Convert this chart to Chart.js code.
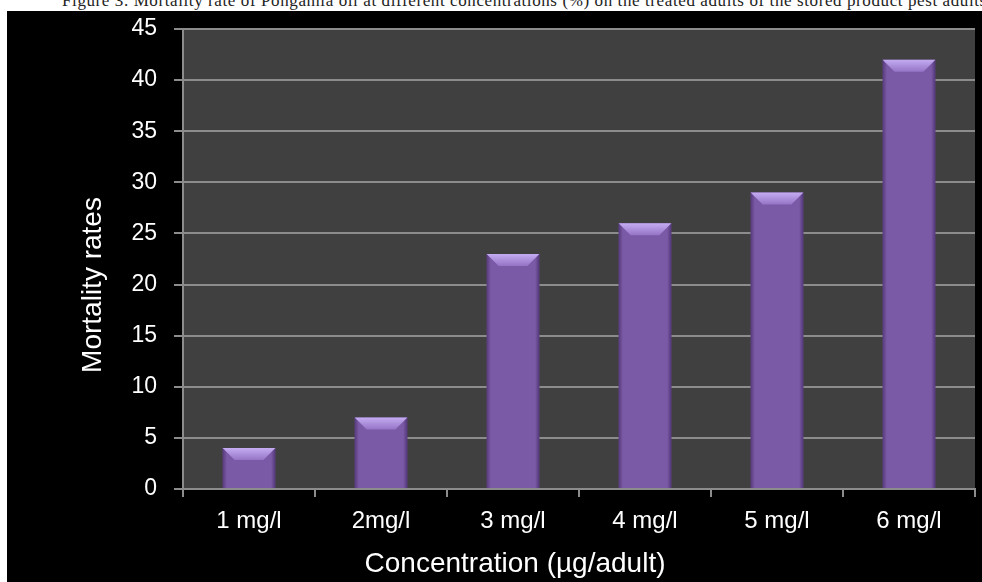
<!DOCTYPE html>
<html>
<head>
<meta charset="utf-8">
<script src="https://cdn.jsdelivr.net/npm/chart.js@4/dist/chart.umd.min.js"></script>
<style>
  html, body { margin:0; padding:0; background:#fff; width:982px; height:582px; overflow:hidden; }
  #cap { position:absolute; left:0; top:0; width:982px; height:11px; overflow:hidden; }
  #cap span { position:absolute; left:62px; top:-9px; white-space:nowrap; font-family:"Liberation Serif", serif; font-size:17px; color:#222; letter-spacing:0.6px; }
  #panel { position:absolute; left:7px; top:11px; width:975px; height:571px; background:#000; }
  #c { position:absolute; left:0; top:0; }
</style>
</head>
<body>
<div id="cap"><span>Figure 3. Mortality rate of Pongamia oil at different concentrations (%) on the treated adults of the stored product pest adults</span></div>
<div id="panel"><canvas id="c" width="975" height="571"></canvas></div>
<script>
const categories = ["1 mg/l", "2mg/l", "3 mg/l", "4 mg/l", "5 mg/l", "6 mg/l"];
const mortality = [4, 7, 23, 26, 29, 42];
const yTicks = [0, 5, 10, 15, 20, 25, 30, 35, 40, 45];
const xTitle = "Concentration (µg/adult)";
const yTitle = "Mortality rates";

const bgPlugin = {
  id: 'plotBg',
  beforeDraw(chart) {
    const {ctx, chartArea:a} = chart;
    ctx.save();
    ctx.fillStyle = '#404040';
    ctx.fillRect(a.left, a.top, a.right - a.left, a.bottom - a.top);
    ctx.restore();
  }
};

const bevelPlugin = {
  id: 'bevel',
  afterDatasetsDraw(chart) {
    const ctx = chart.ctx;
    const meta = chart.getDatasetMeta(0);
    meta.data.forEach(el => {
      const w = el.width, l = el.x - w/2, r = el.x + w/2, t = el.y, b = 12;
      if (![w, l, r, t, el.base].every(Number.isFinite)) return;
      ctx.save();
      let g = ctx.createLinearGradient(l, 0, r, 0);
      g.addColorStop(0, 'rgba(40,20,70,0.45)');
      g.addColorStop(0.08, 'rgba(40,20,70,0.0)');
      g.addColorStop(0.92, 'rgba(40,20,70,0.0)');
      g.addColorStop(1, 'rgba(40,20,70,0.5)');
      ctx.fillStyle = g;
      ctx.fillRect(l, t, w, el.base - t);
      let gt = ctx.createLinearGradient(0, t, 0, t + b);
      gt.addColorStop(0, '#c4acf2');
      gt.addColorStop(1, '#9574c6');
      ctx.beginPath();
      ctx.moveTo(l, t); ctx.lineTo(r, t); ctx.lineTo(r - b, t + b); ctx.lineTo(l + b, t + b); ctx.closePath();
      ctx.fillStyle = gt; ctx.fill();
      ctx.restore();
    });
  }
};

const titlePlugin = {
  id: 'axisTitles',
  afterDraw(chart) {
    const ctx = chart.ctx;
    ctx.save();
    ctx.fillStyle = '#fff';
    ctx.font = '28px "Liberation Sans", Arial, sans-serif';
    ctx.textAlign = 'center';
    ctx.textBaseline = 'middle';
    ctx.fillText(xTitle, 508, 553);
    ctx.translate(86, 274);
    ctx.rotate(-Math.PI/2);
    ctx.fillText(yTitle, 0, 0);
    ctx.restore();
  }
};

const ctx = document.getElementById('c').getContext('2d');
function barFill(context) {
  const chart = context.chart;
  const el = context.element;
  if (!el || !chart.chartArea || !Number.isFinite(el.x) || !Number.isFinite(el.width) || el.width <= 0) return '#7a59a6';
  const w = el.width;
  const g = chart.ctx.createLinearGradient(el.x - w/2, 0, el.x + w/2, 0);
  g.addColorStop(0, '#6c4c98');
  g.addColorStop(0.5, '#8463b0');
  g.addColorStop(1, '#6a4a96');
  return g;
}

new Chart(ctx, {
  type: 'bar',
  data: {
    labels: categories,
    datasets: [{
      data: mortality,
      backgroundColor: barFill,
      borderWidth: 0,
      barPercentage: 0.4,
      categoryPercentage: 1.0
    }]
  },
  options: {
    responsive: false,
    animation: false,
    devicePixelRatio: 1,
    layout: { padding: { left: 0, top: 18, right: 7, bottom: 0 } },
    plugins: { legend: { display: false }, tooltip: { enabled: false } },
    scales: {
      x: {
        offset: true,
        grid: { offset: true, drawOnChartArea: false, drawTicks: true, tickLength: 8, color: '#8c8c8c', lineWidth: 2 },
        border: { display: true, color: '#8c8c8c', width: 2 },
        ticks: { color: '#fff', font: { family: '"Liberation Sans", Arial, sans-serif', size: 24 }, padding: 10, maxRotation: 0 },
        afterFit(s) { s.height = 93; s.paddingLeft = 0; s.paddingRight = 0; }
      },
      y: {
        min: 0, max: 45,
        afterBuildTicks(s) { s.ticks = yTicks.map(v => ({ value: v })); },
        grid: { color: '#8c8c8c', lineWidth: 2, tickLength: 9, drawTicks: true },
        border: { display: true, color: '#8c8c8c', width: 2 },
        ticks: { color: '#fff', font: { family: '"Liberation Sans", Arial, sans-serif', size: 23 }, padding: 17 },
        afterFit(s) { s.width = 176; s.paddingTop = 0; s.paddingBottom = 0; }
      }
    }
  },
  plugins: [bgPlugin, bevelPlugin, titlePlugin]
});
</script>
</body>
</html>
